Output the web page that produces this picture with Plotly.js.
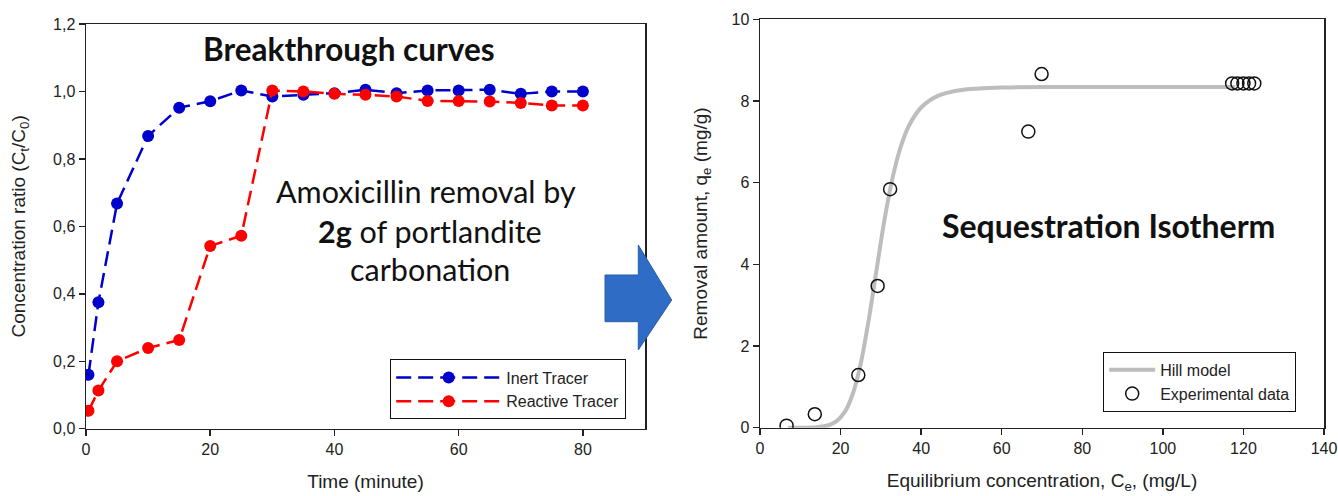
<!DOCTYPE html>
<html>
<head>
<meta charset="utf-8">
<script src="https://cdn.plot.ly/plotly-3.0.1.min.js"></script>
<style>html,body{margin:0;padding:0;background:#fff;}#chart{width:1338px;height:496px;}</style>
</head>
<body>
<div id="chart"></div>
<script>
// ---- Breakthrough curves (left panel) ----
const timeMin = [0.4, 2, 5, 10, 15, 20, 25, 30, 35, 40, 45, 50, 55, 60, 65, 70, 75, 80];
const inertTracer = [0.16, 0.375, 0.668, 0.868, 0.952, 0.971, 1.003, 0.985, 0.99, 0.995, 1.005, 0.995, 1.003, 1.003, 1.005, 0.993, 1.0, 1.0];
const reactiveTracer = [0.053, 0.113, 0.2, 0.239, 0.263, 0.542, 0.572, 1.003, 1.0, 0.993, 0.99, 0.985, 0.972, 0.972, 0.97, 0.966, 0.958, 0.958];
const leftYTickVals = [0, 0.2, 0.4, 0.6, 0.8, 1.0, 1.2];
const leftYTickText = ['0,0', '0,2', '0,4', '0,6', '0,8', '1,0', '1,2'];
const leftXTickVals = [0, 20, 40, 60, 80];

// ---- Sequestration isotherm (right panel) ----
const hillCe = [7, 10, 14, 17, 19, 21, 23, 25, 27, 29, 31, 33, 35, 37, 40, 44, 50, 60, 80, 100, 118];
const hillQe = [0, 0, 0.01, 0.06, 0.16, 0.38, 0.82, 1.57, 2.65, 3.91, 5.15, 6.16, 6.9, 7.4, 7.84, 8.12, 8.27, 8.33, 8.34, 8.34, 8.34];
const expCe = [6.6, 13.6, 24.4, 29.2, 32.3, 66.6, 69.9, 117.2, 118.5, 120.0, 121.4, 122.7];
const expQe = [0.05, 0.33, 1.29, 3.47, 5.84, 7.25, 8.66, 8.43, 8.43, 8.43, 8.43, 8.43];

const W = 1338, H = 496;
const px = v => v / W;
const py = v => (H - v) / H;

const axisFont = {family: 'Liberation Sans, Arial, sans-serif', size: 16, color: '#222'};
const titleFont = {family: 'Liberation Sans, Arial, sans-serif', size: 19, color: '#222'};
const legendFont = {family: 'Liberation Sans, Arial, sans-serif', size: 16, color: '#222'};
const dashPattern = '15px,7px';

const traces = [
  {x: timeMin, y: inertTracer, name: 'Inert Tracer', type: 'scatter', mode: 'lines+markers',
   line: {color: '#0000cc', width: 2.5, dash: dashPattern}, marker: {color: '#0000cc', size: 12},
   xaxis: 'x', yaxis: 'y', legend: 'legend'},
  {x: timeMin, y: reactiveTracer, name: 'Reactive Tracer', type: 'scatter', mode: 'lines+markers',
   line: {color: '#ff0000', width: 2.5, dash: dashPattern}, marker: {color: '#ff0000', size: 12},
   xaxis: 'x', yaxis: 'y', legend: 'legend'},
  {x: hillCe, y: hillQe, name: 'Hill model', type: 'scatter', mode: 'lines',
   line: {color: '#bdbdbd', width: 4, shape: 'spline'},
   xaxis: 'x2', yaxis: 'y2', legend: 'legend2'},
  {x: expCe, y: expQe, name: 'Experimental data', type: 'scatter', mode: 'markers',
   marker: {symbol: 'circle-open', color: '#111', size: 13, line: {width: 1.5, color: '#111'}},
   xaxis: 'x2', yaxis: 'y2', legend: 'legend2'}
];

const baseAxis = {
  showline: true, mirror: true, linecolor: '#222', linewidth: 1.5,
  ticks: 'outside', ticklen: 6, tickwidth: 1.5, tickcolor: '#222',
  showgrid: false, zeroline: false, tickfont: axisFont, automargin: false
};

const layout = {
  width: W, height: H,
  margin: {l: 0, r: 0, t: 0, b: 0},
  paper_bgcolor: '#fff', plot_bgcolor: '#fff',
  font: {family: 'Liberation Sans, Arial, sans-serif', color: '#222'},
  xaxis: Object.assign({}, baseAxis, {
    domain: [px(86), px(645)], range: [0, 90], tickvals: leftXTickVals,
    anchor: 'y', title: {text: 'Time (minute)', font: titleFont, standoff: 17}
  }),
  yaxis: Object.assign({}, baseAxis, {
    domain: [py(428.7), py(24)], range: [0, 1.2], tickvals: leftYTickVals, ticktext: leftYTickText,
    anchor: 'x', title: {text: 'Concentration ratio (C<sub>t</sub>/C<sub>0</sub>)', font: titleFont, standoff: 22}
  }),
  xaxis2: Object.assign({}, baseAxis, {
    domain: [px(760), px(1324)], range: [0, 140], dtick: 20,
    anchor: 'y2', title: {text: 'Equilibrium concentration, C<sub>e</sub>, (mg/L)', font: titleFont, standoff: 17}
  }),
  yaxis2: Object.assign({}, baseAxis, {
    domain: [py(427.7), py(19.3)], range: [0, 10], dtick: 2,
    anchor: 'x2', title: {text: 'Removal amount, q<sub>e</sub> (mg/g)', font: titleFont, standoff: 19}
  }),
  showlegend: true,
  legend: {
    x: px(390), y: py(359.3), xanchor: 'left', yanchor: 'top',
    bgcolor: '#fff', bordercolor: '#111', borderwidth: 1.2,
    font: legendFont, itemwidth: 105, tracegroupgap: 0
  },
  legend2: {
    x: px(1103), y: py(351.7), xanchor: 'left', yanchor: 'top',
    bgcolor: '#fff', bordercolor: '#111', borderwidth: 1.2,
    font: legendFont, itemwidth: 46, tracegroupgap: 0
  },
  annotations: [
    {xref: 'paper', yref: 'paper', x: px(349), y: py(48.5), xanchor: 'center', yanchor: 'middle', showarrow: false,
     text: '<b>Breakthrough curves</b>', font: {family: 'Lato, sans-serif', size: 31.5, color: '#111'}},
    {xref: 'paper', yref: 'paper', x: px(426), y: py(191), xanchor: 'center', yanchor: 'middle', showarrow: false,
     text: 'Amoxicillin removal by', font: {family: 'Lato, sans-serif', size: 30.5, color: '#111'}},
    {xref: 'paper', yref: 'paper', x: px(430), y: py(231), xanchor: 'center', yanchor: 'middle', showarrow: false,
     text: '<b>2g</b> of portlandite', font: {family: 'Lato, sans-serif', size: 30.5, color: '#111'}},
    {xref: 'paper', yref: 'paper', x: px(430), y: py(269), xanchor: 'center', yanchor: 'middle', showarrow: false,
     text: 'carbonation', font: {family: 'Lato, sans-serif', size: 30.5, color: '#111'}},
    {xref: 'paper', yref: 'paper', x: px(1108), y: py(225), xanchor: 'center', yanchor: 'middle', showarrow: false,
     text: '<b>Sequestration Isotherm</b>', font: {family: 'Lato, sans-serif', size: 32, color: '#111'}}
  ],
  shapes: [
    {type: 'path', xref: 'paper', yref: 'paper', layer: 'above',
     path: 'M ' + px(605) + ',' + py(275) + ' L ' + px(638.3) + ',' + py(275) + ' L ' + px(638.3) + ',' + py(245) +
           ' L ' + px(671.7) + ',' + py(300) + ' L ' + px(638.3) + ',' + py(350) + ' L ' + px(638.3) + ',' + py(321.7) +
           ' L ' + px(605) + ',' + py(321.7) + ' Z',
     fillcolor: '#2f6cc6', line: {color: '#2a5ca8', width: 1}}
  ]
};

Plotly.newPlot('chart', traces, layout, {staticPlot: true, displayModeBar: false});
</script>
</body>
</html>
